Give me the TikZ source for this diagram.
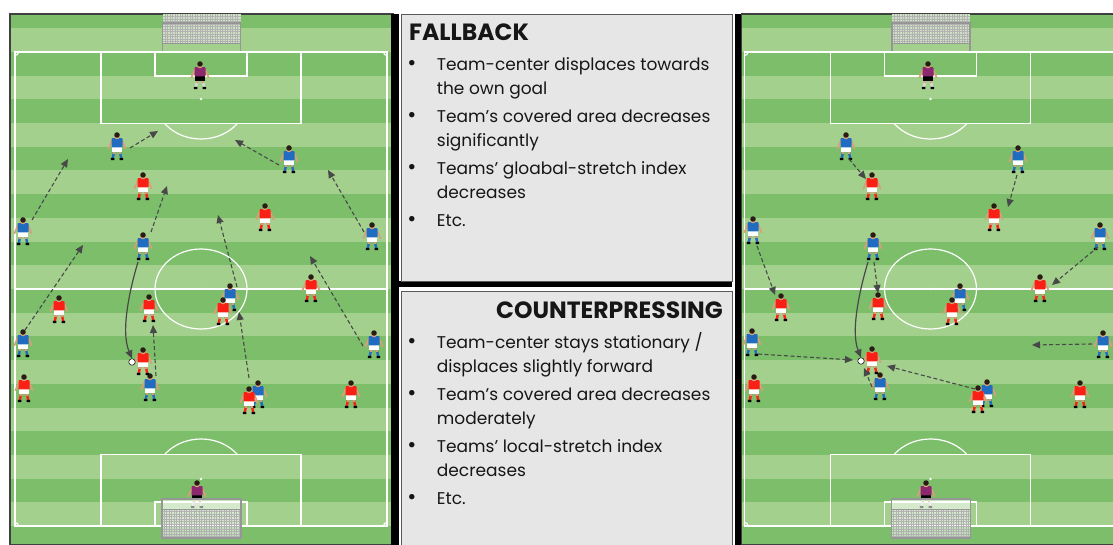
\documentclass[tikz,border=0pt]{standalone}
\usepackage{fontspec}
\setmainfont{Poppins}
\usetikzlibrary{arrows.meta}

\definecolor{turfdark}{RGB}{124,190,106}
\definecolor{turflight}{RGB}{164,208,142}
\definecolor{boxgray}{RGB}{230,230,230}
\definecolor{arrowgray}{RGB}{72,72,72}
\definecolor{shirtred}{RGB}{250,32,22}
\definecolor{shirtblue}{RGB}{32,108,192}
\definecolor{skin}{RGB}{214,160,122}
\definecolor{hair}{RGB}{40,28,20}
\definecolor{keeper}{RGB}{140,40,110}
\definecolor{postgray}{RGB}{150,150,150}
\definecolor{netgreen}{RGB}{208,226,198}
\definecolor{inkblack}{RGB}{22,22,22}

\tikzset{
  chalk/.style={draw=white, line width=1.2pt},
  spot/.style={fill=white},
  netline/.style={draw=black!30, line width=0.25pt},
  goalframe/.style={draw=postgray, line width=1.8pt},
  infobox/.style={draw=black!65, line width=0.8pt, fill=boxgray, inner sep=0pt, anchor=north west},
  bodytext/.style={anchor=base west, inner sep=0pt, text=inkblack, font=\fontsize{17}{20}\selectfont},
  bullet/.style={anchor=base, inner sep=0pt, text=inkblack, font=\fontsize{22}{24}\selectfont},
  headtext/.style={inner sep=0pt, text=inkblack, font=\fontsize{23.5}{27}\selectfont\bfseries},
  mv/.style={draw=arrowgray, line width=1.1pt, dash pattern=on 4pt off 2.5pt,
             -{Triangle[length=8pt,width=7pt]}},
  run/.style={draw=arrowgray, line width=1.2pt, -{Triangle[length=8pt,width=7pt]}},
  ball/.style={circle, draw=black, fill=white, line width=0.5pt, minimum size=6.5pt, inner sep=0pt},
  pics/player/.style n args={3}{code={
    \begin{scope}[scale=1.1]
    \draw[skin, line width=1.8pt, line cap=round] (-4.4,-5.6) -- (-7.8,2.2) (4.4,-5.6) -- (7.8,2.2);
    \draw[#2, line width=2.4pt] (-2.5,5) -- (-3.9,11.2) (2.5,5) -- (3.9,11.2);
    \draw[skin, line width=2.1pt] (-2.3,5) -- (-2.7,7.2) (2.3,5) -- (2.7,7.2);
    \fill[black] (-5.6,10.9) rectangle (-2.4,12.8) (2.4,10.9) rectangle (5.6,12.8);
    \fill[#3] (-4.5,0.5) rectangle (4.5,5.6);
    \fill[#1, rounded corners=0.8pt] (-5,-7.2) rectangle (5,1.2);
    \fill[skin] (0,-8.6) circle (2.5);
    \fill[hair] (0,-10) circle (2.5);
    \end{scope}
  }}
}

\newcommand{\redman}[1]{\pic at (#1) {player={shirtred}{shirtred}{white}};}
\newcommand{\blueman}[1]{\pic at (#1) {player={shirtblue}{shirtblue}{white}};}
\newcommand{\keeperman}[1]{\pic at (#1) {player={keeper}{black!15}{black}};}

% grass, markings and the upper goal of one pitch
% #1 centre x, #2 outer left, #3 outer right
\newcommand{\pitch}[3]{%
  \begin{scope}
    \clip (#2,14) rectangle (#3,545);
    \foreach \k in {-2,...,20}{%
      \pgfmathsetmacro\ya{52+23.7*\k}%
      \pgfmathsetmacro\yb{52+23.7*(\k+1)}%
      \pgfmathtruncatemacro\kk{\k+20}%
      \ifodd\kk\def\stripecol{turflight}\else\def\stripecol{turfdark}\fi
      \fill[\stripecol] (#2,\ya) rectangle (#3,\yb);
    }
  \end{scope}
  \draw[draw=black!75, line width=1.2pt] (#2,14) rectangle (#3,545);
  \begin{scope}[shift={(#1,0)}]
    % upper goal net and frame
    \fill[netgreen] (-38.5,14) rectangle (39.5,43);
    \foreach \gx in {-36,-33.5,...,38}{\draw[netline] (\gx,14) -- (\gx,43);}
    \foreach \gy in {16.5,19,...,42}{\draw[netline] (-38.5,\gy) -- (39.5,\gy);}
    \draw[goalframe] (-38.5,51) -- (-38.5,23) -- (39.5,23) -- (39.5,51);
    \draw[draw=postgray, line width=0.9pt] (-38.5,43) -- (39.5,43);
    % markings
    \draw[chalk] (-186,52) rectangle (186,526);
    \draw[chalk] (-186,289) -- (186,289);
    \draw[chalk] (0,289) ellipse [x radius=46, y radius=40];
    \fill[spot] (0,289) circle (1.4);
    \draw[chalk] (-100,52) rectangle (100,123.3);
    \draw[chalk] (-46,52) rectangle (46,76);
    \fill[spot] (0,99) circle (1.4);
    \draw[chalk] (-100,454.7) rectangle (100,526);
    \draw[chalk] (-46,502) rectangle (46,526);
    \fill[spot] (0,479) circle (1.4);
    \begin{scope}
      \clip (-60,123.3) rectangle (60,150);
      \draw[chalk] (0,99) ellipse [x radius=46, y radius=40];
    \end{scope}
    \begin{scope}
      \clip (-60,430) rectangle (60,454.7);
      \draw[chalk] (0,479) ellipse [x radius=46, y radius=40];
    \end{scope}
    \begin{scope}
      \clip (-186,52) rectangle (186,526);
      \foreach \cx/\cy in {-186/52,186/52,-186/526,186/526}{\draw[chalk] (\cx,\cy) circle (3.5);}
    \end{scope}
  \end{scope}
}

% lower goal, drawn over the keeper standing in it
\newcommand{\lowergoal}[1]{%
  \begin{scope}[shift={(#1,0)}]
    \fill[white, opacity=0.55] (-39,499) rectangle (40,538);
    \foreach \gx in {-37,-34.5,...,39}{\draw[netline] (\gx,509) -- (\gx,538);}
    \foreach \gy in {511.5,514,...,537}{\draw[netline] (-39,\gy) -- (40,\gy);}
    \draw[goalframe] (-39,499) rectangle (40,538);
    \draw[draw=postgray, line width=0.9pt] (-39,509) -- (40,509);
  \end{scope}
}

\begin{document}
\begin{tikzpicture}[x=1pt,y=-1pt]
\useasboundingbox (0,0) rectangle (1113,545);
\fill[white] (0,0) rectangle (1113,545);

% ---------- pitches ----------
\pitch{201}{10}{393}
\begin{scope}
  \clip (741,0) rectangle (1113,545);
  \pitch{930.5}{741}{1130}
\end{scope}

% ---------- frames and info boxes ----------
\fill[black] (391,14) rectangle (398.5,545);
\fill[black] (735,14) rectangle (741,545);
\fill[black] (398.5,281) rectangle (732,287.3);
\node[infobox, minimum width=331pt, minimum height=267pt] (fallbackbox) at (400.5,14) {};
\node[infobox, minimum width=331pt, minimum height=262pt] (counterbox) at (400.5,290.5) {};

\node[headtext, anchor=base west] (fallbackhead) at (409,40.7) {FALLBACK};
\foreach \y/\t [count=\i] in {70.7/{Team-center displaces towards},
    94.3/{the own goal},
    122.7/{Team’s covered area decreases},
    146.2/{significantly},
    174.6/{Teams’ gloabal-stretch index},
    198.1/{decreases},
    226.5/{Etc.}}{
  \node[bodytext] (fallbackline\i) at (436.7,\y) {\t};
}
\foreach \y [count=\i] in {70.7,122.7,174.6,226.5}{
  \node[bullet] (fallbackdot\i) at (412,\y) {•};
}

\node[headtext, anchor=base east] (counterhead) at (723,318.3) {COUNTERPRESSING};
\foreach \y/\t [count=\i] in {348.7/{Team-center stays stationary /},
    372.3/{displaces slightly forward},
    400.7/{Team’s covered area decreases},
    424.2/{moderately},
    452.6/{Teams’ local-stretch index},
    476.1/{decreases},
    504.5/{Etc.}}{
  \node[bodytext] (counterline\i) at (436.7,\y) {\t};
}
\foreach \y [count=\i] in {348.7,400.7,452.6,504.5}{
  \node[bullet] (counterdot\i) at (412,\y) {•};
}

% ---------- left pitch: fallback ----------
\keeperman{200,75}
\keeperman{197,494}
\lowergoal{201}
\foreach \p in {{117,146},{289,159},{23,231},{143,246},{372,236},{230,297},{23,343},{374,344},{150,387},{258,394}}{\blueman{\p}}
\foreach \p in {{143,186},{265,217},{59,309},{149,308},{223,311},{311,288},{143,361},{24,388},{249,400},{351,394}}{\redman{\p}}
\node[ball] (ballL) at (132,362) {};

\foreach \n/\sx/\sy/\ex/\ey in {1/130/148/158/131, 2/279/165/235/140, 3/32/220/68/159,
    4/151/232/167/186, 5/364/232/328/170, 6/25/330/83/245, 8/237/287/218/215,
    9/363/346/310/256, 10/156/376/153/325, 11/249/378/239/312}{
  \coordinate (fs\n) at (\sx,\sy);
  \coordinate (fe\n) at (\ex,\ey);
  \draw[mv] (fs\n) -- (fe\n);
}
\coordinate (fpass) at (138,262);
\draw[run] (fpass) .. controls (131,285) and (120,330) .. (ballL.north);

% ---------- right pitch: counterpressing ----------
\begin{scope}
\clip (741,0) rectangle (1113,545);
\keeperman{928,75}
\keeperman{926,494}
\lowergoal{930.5}
\foreach \p in {{846,146},{1018,159},{753,230},{873,246},{1100,236},{960,297},{752,342},{1103,344},{880,386},{987,393}}{\blueman{\p}}
\foreach \p in {{872,186},{994,217},{781,307},{878,306},{952,311},{1040,288},{872,360},{754,388},{978,399},{1080,394}}{\redman{\p}}
\node[ball] (ballR) at (861,361) {};

\foreach \n/\sx/\sy/\ex/\ey in {1/849/159/866/179, 2/1017/175/1008/207, 3/757/246/775/295,
    5/874/262/878/293, 6/1098/247/1052/285, 7/758/354/853/360, 8/1092/344/1032/345,
    9/975/389/887/366, 10/872/387/864/368}{
  \coordinate (cs\n) at (\sx,\sy);
  \coordinate (ce\n) at (\ex,\ey);
  \draw[mv] (cs\n) -- (ce\n);
}
\coordinate (cpass) at (868,262);
\draw[run] (cpass) .. controls (861,285) and (850,330) .. (ballR.north);
\end{scope}
\end{tikzpicture}
\end{document}
